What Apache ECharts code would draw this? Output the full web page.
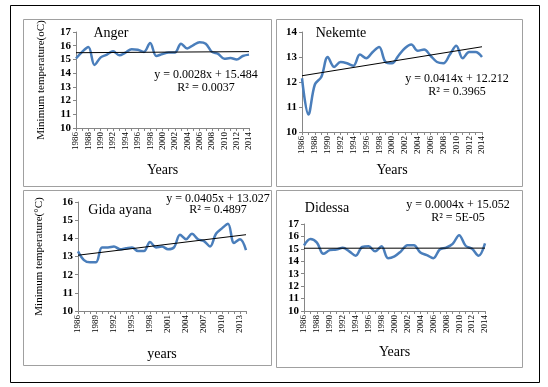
<!DOCTYPE html>
<html>
<head>
<meta charset="utf-8">
<script src="https://cdn.jsdelivr.net/npm/echarts@6/dist/echarts.min.js"></script>
<style>
  html, body { margin: 0; padding: 0; background: #fff; }
  #chart { width: 548px; height: 387px; }
</style>
</head>
<body>
<div id="chart"></div>
<script>
let chart = echarts.init(document.getElementById('chart'));

/* years 1986 - 2014 */
let years = [];
for (let y = 1986; y <= 2014; y++) years.push(String(y));

/* minimum temperature */
let anger = [15.07,15.55,15.9,14.6,15.15,15.35,15.6,15.3,15.5,15.75,15.7,15.55,16.2,15.25,15.4,15.5,15.5,16.15,15.8,16.05,16.25,16.15,15.55,15.4,15.05,15.1,15.0,15.25,15.35];
let nekemte = [12.15,10.7,11.9,12.2,13.0,12.6,12.8,12.75,12.65,13.1,12.95,13.2,13.4,12.8,12.75,13.05,13.35,13.5,13.25,13.3,13.05,12.8,12.75,13.1,13.45,12.95,13.2,13.2,13.0];
let gida = [13.28,12.8,12.68,12.68,13.5,13.5,13.55,13.4,13.45,13.5,13.3,13.3,13.8,13.5,13.55,13.4,13.5,14.2,13.95,14.25,13.95,13.85,13.55,14.25,14.55,14.8,13.75,13.95,13.35];
let didessa = [15.27,15.8,15.5,14.6,14.9,14.95,15.08,14.8,14.45,15.15,15.2,14.8,15.2,14.25,14.4,14.8,15.3,15.3,14.7,14.5,14.25,14.95,15.1,15.4,16.1,15.25,15.0,14.45,15.45];

/* linear trend end points (1986, 2014) */
let angerTrend = [15.49, 15.57];
let nekemteTrend = [12.25, 13.41];
let gidaTrend = [13.07, 14.20];
let didessaTrend = [15.05, 15.06];

let fontFam = '"Liberation Serif", "Times New Roman", serif';
let lineBlue = '#4a7ebb';
let axisGray = '#868686';

function xAx(idx, labInt, gap, name) {
    return {
        type: 'category', gridIndex: idx, data: years, boundaryGap: false,
        name: name, nameLocation: 'middle', nameGap: gap,
        nameTextStyle: { fontFamily: fontFam, fontSize: 14, color: '#000' },
        axisLine: { lineStyle: { color: axisGray } },
        axisTick: { interval: 0, length: 3, lineStyle: { color: axisGray } },
        axisLabel: { interval: labInt, rotate: 90, fontFamily: fontFam, fontSize: 9, color: '#000', margin: 4 }
    };
}
function yAx(idx, min, max, name, gap) {
    return {
        type: 'value', gridIndex: idx, min: min, max: max, interval: 1,
        name: name, nameLocation: 'middle', nameGap: gap,
        nameTextStyle: { fontFamily: fontFam, fontSize: 11, color: '#000' },
        splitLine: { show: false },
        axisLine: { show: true, lineStyle: { color: axisGray } },
        axisTick: { show: true, length: 3, lineStyle: { color: axisGray } },
        axisLabel: { fontFamily: fontFam, fontSize: 11, fontWeight: 'bold', color: '#000', margin: 5 }
    };
}
function dataLine(idx, vals) {
    return {
        type: 'line', xAxisIndex: idx, yAxisIndex: idx, data: vals,
        smooth: 0.35, symbol: 'none',
        lineStyle: { color: lineBlue, width: 2.5 }
    };
}
function trendLine(idx, ends) {
    return {
        type: 'line', xAxisIndex: idx, yAxisIndex: idx,
        data: [[years[0], ends[0]], [years[years.length - 1], ends[1]]],
        symbol: 'none', lineStyle: { color: '#000', width: 1 }, z: 3
    };
}
function txt(x, y, s, size, align) {
    return {
        type: 'text', x: x, y: y,
        style: { text: s, fontFamily: fontFam, fontSize: size, fill: '#000', align: align || 'center', verticalAlign: 'middle' }
    };
}

let option = {
    animation: false,
    backgroundColor: '#fff',
    grid: [
        { left: 76, top: 32, width: 173, height: 96 },
        { left: 302, top: 32, width: 180, height: 100 },
        { left: 78, top: 202, width: 168, height: 109 },
        { left: 304, top: 224, width: 181, height: 87 }
    ],
    xAxis: [
        xAx(0, 1, 35, 'Years'),
        xAx(1, 1, 31, 'Years'),
        xAx(2, 2, 36, 'years'),
        xAx(3, 1, 34, 'Years')
    ],
    yAxis: [
        yAx(0, 10, 17, 'Minimum temperature(oC)', 29),
        yAx(1, 10, 14, '', 20),
        yAx(2, 10, 16, 'Minimum temperature(°C)', 33),
        yAx(3, 10, 17, '', 20)
    ],
    series: [
        dataLine(0, anger), trendLine(0, angerTrend),
        dataLine(1, nekemte), trendLine(1, nekemteTrend),
        dataLine(2, gida), trendLine(2, gidaTrend),
        dataLine(3, didessa), trendLine(3, didessaTrend)
    ],
    graphic: [
        { type: 'rect', shape: { x: 10.5, y: 5.5, width: 529, height: 377 }, style: { fill: 'none', stroke: '#000', lineWidth: 1 }, z: -1 },
        { type: 'rect', shape: { x: 23.5, y: 19.5, width: 248, height: 167 }, style: { fill: 'none', stroke: '#a0a0a0', lineWidth: 1 }, z: -1 },
        { type: 'rect', shape: { x: 276.5, y: 19.5, width: 246, height: 167 }, style: { fill: 'none', stroke: '#a0a0a0', lineWidth: 1 }, z: -1 },
        { type: 'rect', shape: { x: 23.5, y: 190.5, width: 248, height: 175 }, style: { fill: 'none', stroke: '#a0a0a0', lineWidth: 1 }, z: -1 },
        { type: 'rect', shape: { x: 276.5, y: 190.5, width: 246, height: 177 }, style: { fill: 'none', stroke: '#a0a0a0', lineWidth: 1 }, z: -1 },
        txt(111, 33, 'Anger', 14),
        txt(206, 75, 'y = 0.0028x + 15.484', 12),
        txt(206, 88, 'R² = 0.0037', 12),
        txt(341, 33, 'Nekemte', 14),
        txt(457, 79, 'y = 0.0414x + 12.212', 12),
        txt(457, 92, 'R² = 0.3965', 12),
        txt(120, 210, 'Gida ayana', 14),
        txt(218, 199, 'y = 0.0405x + 13.027', 12),
        txt(218, 210, 'R² = 0.4897', 12),
        txt(327, 208, 'Didessa', 14),
        txt(458, 205, 'y = 0.0004x + 15.052', 12),
        txt(458, 218, 'R² = 5E-05', 12)
    ]
};

chart.setOption(option);
</script>
</body>
</html>
